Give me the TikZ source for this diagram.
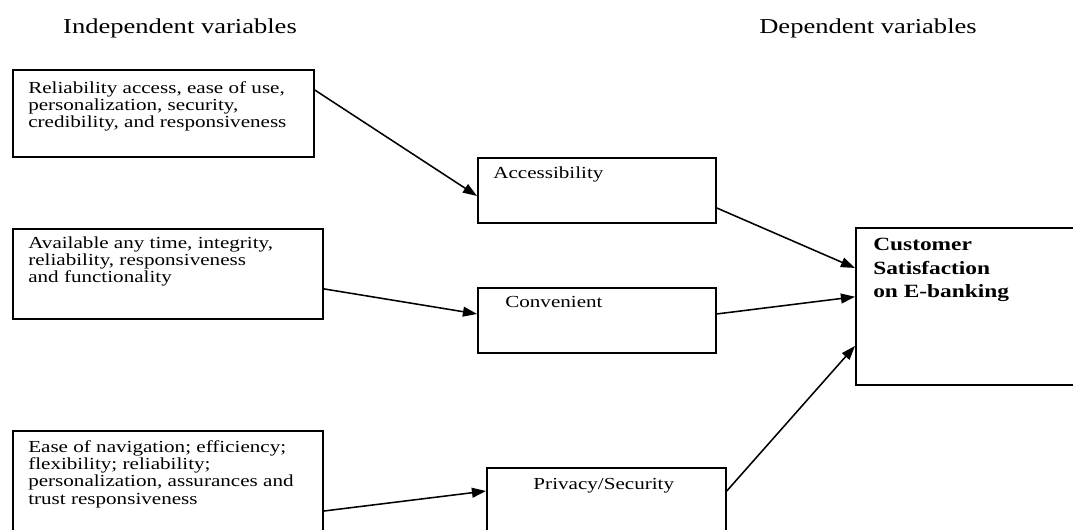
\documentclass[tikz,border=0pt]{standalone}
\usepackage{fontspec}
\setmainfont{Liberation Serif}[FakeStretch=1.25]
\usetikzlibrary{arrows.meta}

\begin{document}
\begin{tikzpicture}[x=0.025cm, y=-0.025cm, >={Triangle[length=10pt, width=7pt]},
		varbox/.style={draw, line width=1.2pt, anchor=north west, inner sep=0pt},
		boxtext/.style={anchor=north west, align=left, inner sep=0pt, font=\fontsize{12}{12.2}\selectfont},
		headtext/.style={font=\fontsize{15.1}{17}\selectfont},
		link/.style={->, line width=1.1pt}]
		\useasboundingbox (0,0) rectangle (1073,529);
		\clip (0,0) rectangle (1073,529);
		% headings
		\node[headtext] (indep) at (180,28) {Independent variables};
		\node[headtext] (dep) at (868,28) {Dependent variables};
		% independent variables
		\node[varbox, minimum width=7.525cm, minimum height=2.175cm,
			label={[boxtext, xshift=0.4cm, yshift=-0.31cm]north west:{Reliability access, ease of use,\\personalization, security,\\credibility, and responsiveness}}] (rel) at (12,69) {};
		\node[varbox, minimum width=7.75cm, minimum height=2.25cm,
			label={[boxtext, xshift=0.4cm, yshift=-0.21cm]north west:{Available any time, integrity,\\reliability, responsiveness\\and functionality}}] (avail) at (12,228) {};
		\node[varbox, minimum width=7.75cm, minimum height=3cm,
			label={[boxtext, xshift=0.4cm, yshift=-0.26cm]north west:{Ease of navigation; efficiency;\\flexibility; reliability;\\personalization, assurances and\\trust responsiveness}}] (ease) at (12,430) {};
		% mediating boxes
		\node[varbox, minimum width=5.95cm, minimum height=1.625cm,
			label={[boxtext, xshift=0.4cm, yshift=-0.23cm]north west:Accessibility}] (acc) at (477,157) {};
		\node[varbox, minimum width=5.95cm, minimum height=1.625cm,
			label={[boxtext, xshift=0.7cm, yshift=-0.23cm]north west:Convenient}] (conv) at (477,287) {};
		\node[varbox, minimum width=5.975cm, minimum height=2.5cm,
			label={[boxtext, xshift=1.18cm, yshift=-0.28cm]north west:Privacy/Security}] (priv) at (486,467) {};
		% dependent variable
		\node[varbox, minimum width=6cm, minimum height=3.925cm,
			label={[boxtext, font=\fontsize{13.3}{16.6}\selectfont\bfseries, xshift=0.45cm, yshift=-0.28cm]north west:{Customer\\Satisfaction\\on E-banking}}] (cust) at (855,227) {};
		% arrows
		\draw[link] ([yshift=-0.525cm]rel.north east) -- ([yshift=-0.14cm]acc.west);
		\draw[link] ([yshift=-0.44cm]acc.east) -- ([yshift=0.96cm]cust.west);
		\draw[link] ([yshift=-0.375cm]avail.east) -- ([yshift=0.16cm]conv.west);
		\draw[link] ([yshift=0.16cm]conv.east) -- ([yshift=0.24cm]cust.west);
		\draw[link] ([yshift=-2.025cm]ease.north east) -- ([yshift=-0.6cm]priv.north west);
		\draw[link] ([yshift=-0.6cm]priv.north east) -- ([yshift=-0.99cm]cust.west);
	\end{tikzpicture}
\end{document}
